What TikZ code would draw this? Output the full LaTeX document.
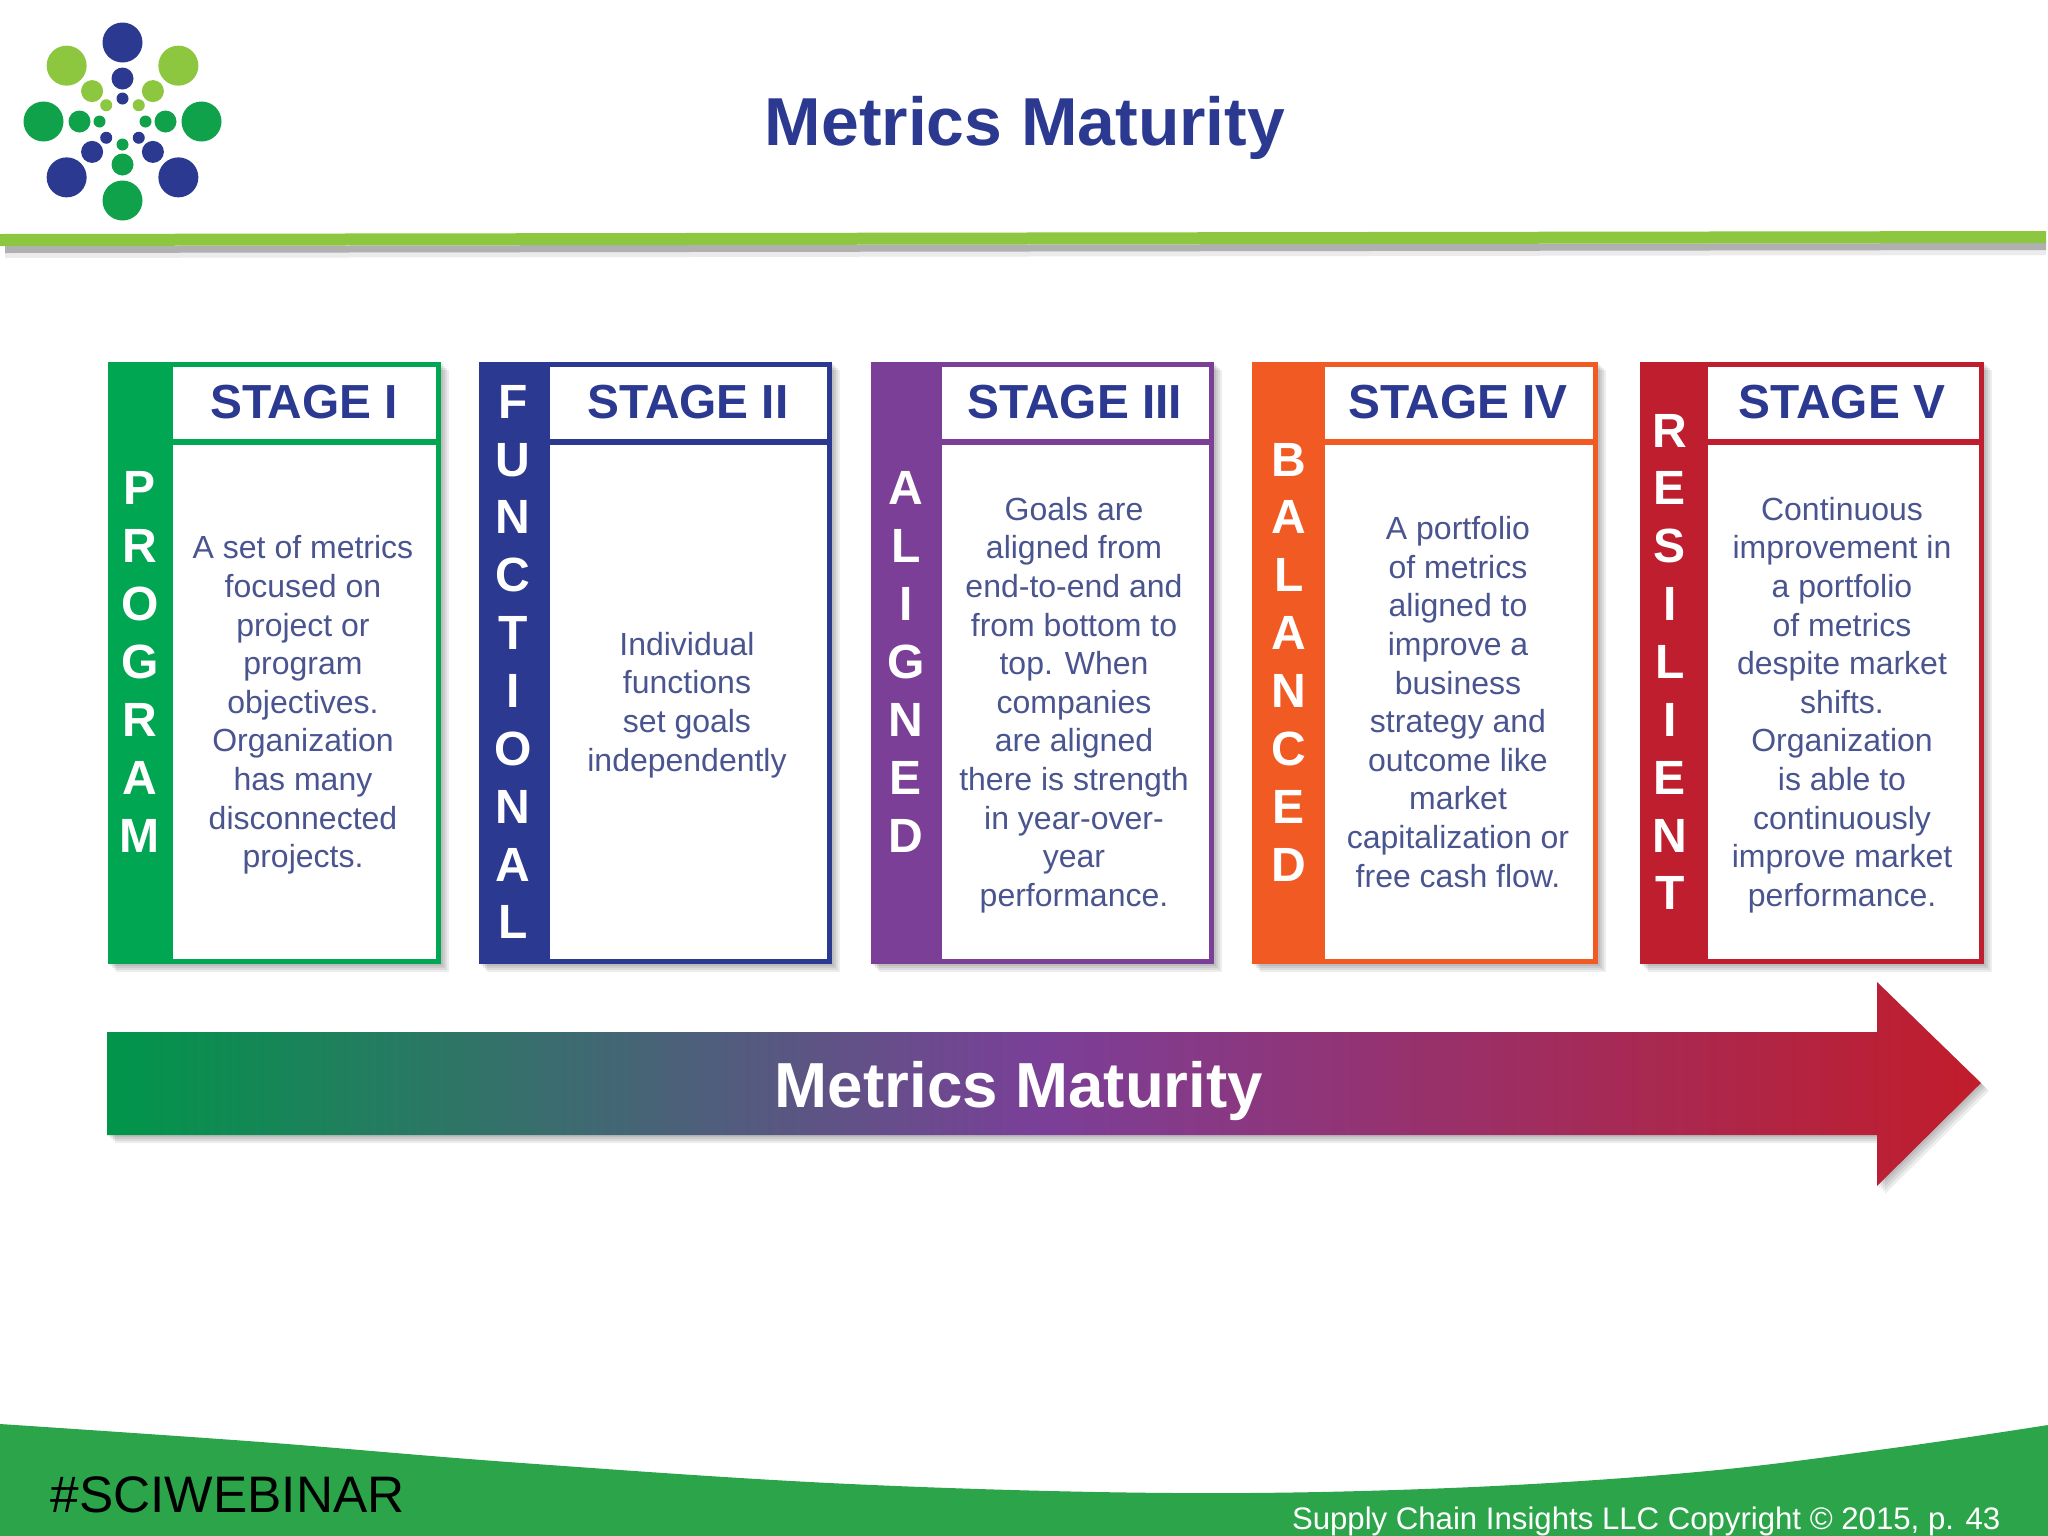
\documentclass[tikz,border=0pt]{standalone}
\usepackage{fontspec}
\setmainfont{Liberation Sans}
\usetikzlibrary{calc}
\definecolor{navy}{HTML}{2B3990}
\definecolor{bodyink}{HTML}{4A5590}
\definecolor{lgreen}{HTML}{8DC63F}
\definecolor{mgreen}{HTML}{0FA24B}
\definecolor{foot}{HTML}{2CA44A}
\definecolor{cgreen}{HTML}{00A651}
\definecolor{cblue}{HTML}{2B3990}
\definecolor{cpurple}{HTML}{7B3F98}
\definecolor{corange}{HTML}{F15A22}
\definecolor{cred}{HTML}{BE1E2D}
\tikzset{
  stagehead/.style={inner sep=0pt,text=navy,font=\fontsize{13.6}{16}\selectfont\bfseries},
  stagebody/.style={inner sep=0pt,align=center,text=bodyink,font=\fontsize{9.1}{10.98}\selectfont},
  bandtext/.style={inner sep=0pt,align=center,text=white,font=\fontsize{13.66}{16.45}\selectfont\bfseries},
  logodot/.style={circle,inner sep=0pt,minimum size=#1},
}
\newcommand\cardbox[4]{% colour, left, band right, right
  \foreach \s in {2,4,6,8}{\fill[black,opacity=.07] (#2+\s,362+\s) rectangle (#4+\s,964+\s);}
  \fill[#1] (#2,362) rectangle (#4,964);
  \fill[white] (#3,367) rectangle (#4-5,439);
  \fill[white] (#3,445) rectangle (#4-5,959);
}
\newcommand\logoring[3]{% angle, colour, name prefix
  \node[logodot=40*0.01cm,fill=#2] (#3a) at ($(122.5,121.5)+(#1:79 and -79)$) {};
  \node[logodot=22*0.01cm,fill=#2] (#3b) at ($(122.5,121.5)+(#1:43 and -43)$) {};
  \node[logodot=12*0.01cm,fill=#2] (#3c) at ($(122.5,121.5)+(#1:23 and -23)$) {};
}
\begin{document}
\begin{tikzpicture}[x=0.01cm,y=-0.01cm]
\useasboundingbox (0,0) rectangle (2048,1536);
\fill[white] (0,0) rectangle (2048,1536);
% logo
\logoring{90}{navy}{n}
\logoring{45}{lgreen}{ne}
\logoring{135}{lgreen}{nw}
\logoring{0}{mgreen}{e}
\logoring{180}{mgreen}{w}
\logoring{-45}{navy}{se}
\logoring{-135}{navy}{sw}
\logoring{-90}{mgreen}{s}
% title and rule
\node[inner sep=0pt,text=navy,font=\fontsize{19.3}{23}\selectfont\bfseries] (title) at (1025,127.5) {Metrics Maturity};
\fill[black,opacity=.25] (5,246) -- (2046,243) -- (2046,250) -- (5,253) -- cycle;
\fill[black,opacity=.08] (5,246) -- (2046,243) -- (2046,255) -- (5,258) -- cycle;
\fill[lgreen] (0,234) -- (2046,231) -- (2046,243) -- (0,246) -- cycle;
% cards
\cardbox{cgreen}{108}{173}{441}
\cardbox{cblue}{479}{550}{832}
\cardbox{cpurple}{871}{942}{1214}
\cardbox{corange}{1252}{1325}{1598}
\cardbox{cred}{1640}{1708}{1984}
% band letters
\node[bandtext] (b1) at (140,662) {P\\R\\O\\G\\R\\A\\M};
\node[bandtext] (b2) at (513,662) {F\\U\\N\\C\\T\\I\\O\\N\\A\\L};
\node[bandtext] (b3) at (906,662) {A\\L\\I\\G\\N\\E\\D};
\node[bandtext] (b4) at (1289,662) {B\\A\\L\\A\\N\\C\\E\\D};
\node[bandtext] (b5) at (1670,662) {R\\E\\S\\I\\L\\I\\E\\N\\T};
% headings
\node[stagehead] (h1) at (304,402) {STAGE I};
\node[stagehead] (h2) at (688,402) {STAGE II};
\node[stagehead] (h3) at (1075,402) {STAGE III};
\node[stagehead] (h4) at (1458,402) {STAGE IV};
\node[stagehead] (h5) at (1842,402) {STAGE V};
% bodies
\node[stagebody] (t1) at (303,705) {A set of metrics\\focused on\\project or\\program\\objectives.\\Organization\\has many\\disconnected\\projects.};
\node[stagebody] (t2) at (687,705) {Individual\\functions\\set goals\\independently};
\node[stagebody] (t3) at (1074,705) {Goals are\\aligned from\\end-to-end and\\from bottom to\\top. When\\companies\\are aligned\\there is strength\\in year-over-\\year\\performance.};
\node[stagebody] (t4) at (1458,702) {A portfolio\\of metrics\\aligned to\\improve a\\business\\strategy and\\outcome like\\market\\capitalization or\\free cash flow.};
\node[stagebody] (t5) at (1842,705) {Continuous\\improvement in\\a portfolio\\of metrics\\despite market\\shifts.\\Organization\\is able to\\continuously\\improve market\\performance.};
% arrow
\foreach \s in {2,4,6,8}{\fill[black,opacity=.07] (107+\s,1032+\s) -- (1877+\s,1032+\s) -- (1877+\s,982+\s) -- (1981+\s,1083+\s) -- (1877+\s,1186+\s) -- (1877+\s,1135+\s) -- (107+\s,1135+\s) -- cycle;}
\shade[left color=cgreen!90!black,right color=cred!95!red,middle color=cpurple] (107,1032) -- (1877,1032) -- (1877,982) -- (1981,1083) -- (1877,1186) -- (1877,1135) -- (107,1135) -- cycle;
\node[inner sep=0pt,text=white,font=\fontsize{18.1}{22}\selectfont\bfseries] (arrowlabel) at (1019,1091.5) {Metrics Maturity};
% footer
\fill[foot] (0,1536) -- (0,1424) -- plot[smooth,tension=.6] coordinates {(0,1424) (261,1442) (522,1463) (850,1484) (1175,1493) (1450,1488) (1697,1472) (1893,1448) (2048,1425)} -- (2048,1536) -- cycle;
\node[inner sep=0pt,anchor=west,text=black,font=\fontsize{14.6}{18}\selectfont] (tag) at (50,1495) {\#SCIWEBINAR};
\node[inner sep=0pt,anchor=east,text=white,font=\fontsize{8.86}{11}\selectfont] (copy) at (2001,1521) {Supply Chain Insights LLC Copyright © 2015, p. 43};
\end{tikzpicture}
\end{document}
